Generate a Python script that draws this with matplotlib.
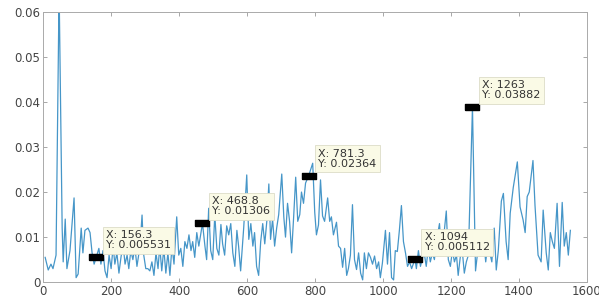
# Spectrum with MATLAB-style data tips
import numpy as np
import matplotlib.pyplot as plt

freq = [6, 15, 23, 29, 38, 47, 56, 59, 65, 70, 79, 91, 97, 103, 112, 117, 123, 132, 138, 144,
        150, 156.3, 164, 170, 176, 182, 188, 194, 200, 206, 211, 217, 223, 229, 235, 241, 247,
        252, 258, 264, 270, 276, 285, 291, 296, 302, 308, 314, 320, 326, 332, 338, 343, 349,
        355, 361, 367, 373, 379, 385, 393, 399, 405, 411, 417, 423, 429, 435, 440, 446, 452,
        458, 468.8, 476, 481, 487, 493, 499, 505, 511, 517, 523, 528, 534, 540, 546, 552, 558,
        564, 570, 575, 581, 590, 599, 605, 611, 617, 622, 628, 634, 640, 646, 652, 658, 664,
        669, 675, 681, 687, 693, 702, 708, 713, 719, 725, 731, 737, 743, 749, 755, 760, 766,
        772, 781.3, 793, 799, 804, 810, 816, 822, 828, 837, 843, 848, 854, 863, 869, 875, 881,
        887, 893, 898, 904, 910, 916, 922, 928, 934, 940, 945, 951, 957, 963, 969, 975, 981,
        987, 992, 998, 1007, 1013, 1019, 1025, 1031, 1036, 1042, 1048, 1054, 1060, 1066, 1072,
        1078, 1084, 1094, 1098, 1104, 1110, 1116, 1122, 1127, 1133, 1139, 1145, 1151, 1157,
        1166, 1171, 1177, 1186, 1192, 1198, 1204, 1210, 1216, 1221, 1227, 1233, 1239, 1245,
        1251, 1263, 1272, 1278, 1284, 1290, 1296, 1302, 1308, 1314, 1320, 1327, 1333, 1339,
        1348, 1354, 1362, 1368, 1374, 1383, 1395, 1403, 1412, 1418, 1424, 1430, 1441, 1447,
        1456, 1465, 1471, 1480, 1486, 1492, 1498, 1504, 1512, 1519, 1527, 1533, 1539, 1545, 1551]

amp = [0.0055, 0.0027, 0.004, 0.003, 0.006, 0.065, 0.012, 0.0045, 0.014, 0.003, 0.007, 0.0187,
       0.001, 0.0018, 0.012, 0.0065, 0.0115, 0.012, 0.011, 0.0065,
       0.004, 0.005531, 0.0075, 0.004, 0.007, 0.0025, 0.001, 0.006, 0.003, 0.008, 0.004, 0.0065,
       0.002, 0.0055, 0.0085, 0.004, 0.006,
       0.003, 0.007, 0.005, 0.0078, 0.0035, 0.008, 0.0149, 0.006, 0.003, 0.003, 0.0025, 0.0045,
       0.0015, 0.0065, 0.003, 0.008, 0.0025,
       0.0075, 0.002, 0.0065, 0.0015, 0.008, 0.004, 0.0145, 0.006, 0.0075, 0.0035, 0.009, 0.0075,
       0.0105, 0.007, 0.009, 0.0055, 0.011,
       0.008, 0.01306, 0.008, 0.005, 0.0164, 0.007, 0.005, 0.015, 0.0075, 0.006, 0.0128, 0.0085,
       0.006, 0.0125, 0.0105, 0.013, 0.0065,
       0.0035, 0.0115, 0.008, 0.0025, 0.012, 0.0238, 0.0095, 0.013, 0.008, 0.011, 0.0035, 0.0015,
       0.009, 0.013, 0.0085, 0.0135, 0.0218,
       0.0095, 0.014, 0.008, 0.012, 0.015, 0.024, 0.0145, 0.01, 0.0175, 0.0135, 0.0065, 0.0145,
       0.0233, 0.0135, 0.015, 0.02, 0.0175,
       0.022, 0.02364, 0.0264, 0.0155, 0.0105, 0.0127, 0.0227, 0.0147, 0.0135, 0.0187, 0.0135,
       0.0145, 0.0105, 0.0133, 0.008, 0.0075, 0.0033,
       0.0075, 0.0015, 0.003, 0.006, 0.0172, 0.005, 0.0028, 0.0065, 0.002, 0.0005, 0.0065, 0.003,
       0.0065, 0.0055, 0.004, 0.0058, 0.003,
       0.0045, 0.001, 0.0042, 0.0115, 0.004, 0.011, 0.001, 0.0005, 0.007, 0.0068, 0.0115, 0.017,
       0.009, 0.0065, 0.0035,
       0.0045, 0.003, 0.005112, 0.003, 0.007, 0.0035, 0.0055, 0.006, 0.0035, 0.0075, 0.0045,
       0.0065, 0.005, 0.009,
       0.013, 0.0075, 0.009, 0.0158, 0.005, 0.0035, 0.007, 0.0045, 0.006, 0.0015, 0.0055, 0.007,
       0.002, 0.0045,
       0.006, 0.03882, 0.0025, 0.0065, 0.0085, 0.006, 0.009, 0.0045, 0.0085, 0.0065, 0.0045,
       0.012, 0.0027, 0.007,
       0.018, 0.0197, 0.009, 0.005, 0.0153, 0.021, 0.0267, 0.0167, 0.0138, 0.011, 0.019, 0.02,
       0.027, 0.017,
       0.006, 0.0045, 0.016, 0.0065, 0.0027, 0.011, 0.009, 0.0075, 0.0175, 0.0035, 0.0177,
       0.008, 0.011, 0.006, 0.0115]

tip_x = [156.3, 468.8, 781.3, 1094, 1263]
tip_y = [0.005531, 0.01306, 0.02364, 0.005112, 0.03882]
tip_xlabels = ['156.3', '468.8', '781.3', '1094', '1263']
tip_ylabels = ['0.005531', '0.01306', '0.02364', '0.005112', '0.03882']

fig = plt.figure(figsize=(5.99, 2.97), dpi=100)
ax = fig.add_axes([0.072, 0.05, 0.908, 0.91])

ax.plot(freq, amp, color='#4696c8', lw=0.9)

rect = [(-1, -0.45), (1, -0.45), (1, 0.45), (-1, 0.45), (-1, -0.45)]
ax.plot(tip_x, tip_y, ls='none', marker=rect, ms=10, color='black')

for x, y, xl, yl in zip(tip_x, tip_y, tip_xlabels, tip_ylabels):
    ax.annotate('X: ' + xl + '\nY: ' + yl, xy=(x, y), xytext=(7, 5),
                textcoords='offset points', ha='left', va='bottom',
                fontsize=8, color='#333333', linespacing=1.0,
                bbox=dict(boxstyle='square,pad=0.3', fc='#fafae6', ec='#dcdcc8', lw=0.6))

ax.set_xlim(0, 1600)
ax.set_ylim(0, 0.06)
ax.set_xticks(np.arange(0, 1601, 200))
ax.set_yticks([0, 0.01, 0.02, 0.03, 0.04, 0.05, 0.06])
ax.set_yticklabels(['0', '0.01', '0.02', '0.03', '0.04', '0.05', '0.06'])
ax.tick_params(direction='in', top=True, right=True, length=3, width=0.6,
               colors='#999999', labelcolor='#444444', labelsize=8.5, pad=2)
for s in ax.spines.values():
    s.set_color('#aaaaaa')
    s.set_linewidth(0.7)

fig.savefig('out.png', dpi=100)
